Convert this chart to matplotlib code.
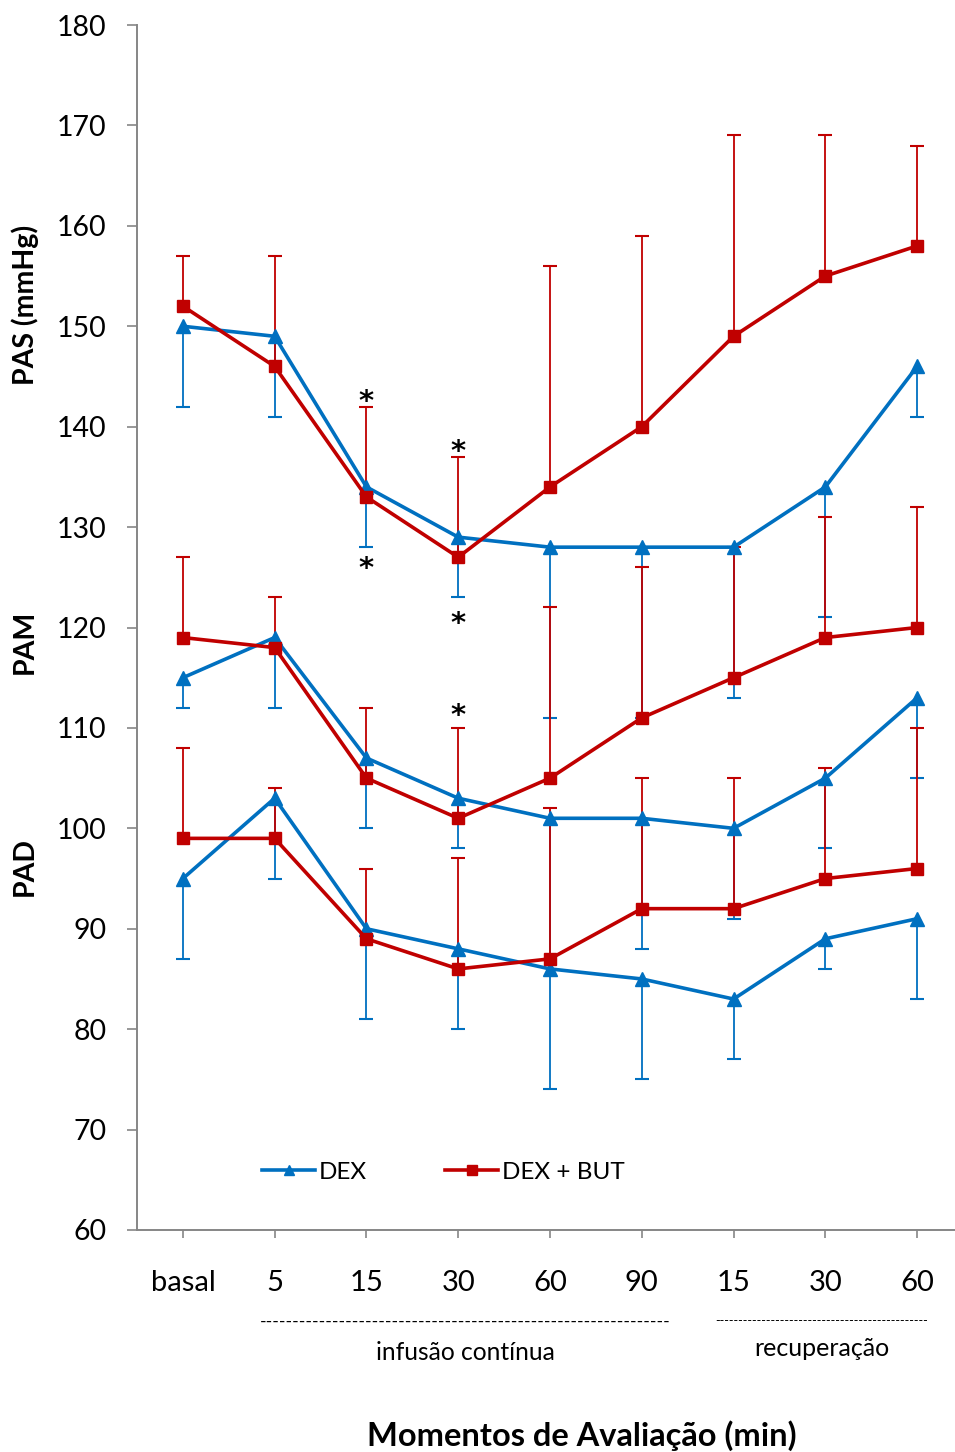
import matplotlib
matplotlib.use("Agg")
import matplotlib.pyplot as plt
from matplotlib.lines import Line2D

plt.rcParams["font.family"] = ["Lato", "DejaVu Sans"]

# categories on the x axis
labels = ["basal", "5", "15", "30", "60", "90", "15", "30", "60"]

# DEX (blue): means and lower ends of the error bars
dex_pas = [150, 149, 134, 129, 128, 128, 128, 134, 146]
dex_pas_low = [142, 141, 128, 123, 111, 111, 113, 121, 141]
dex_pam = [115, 119, 107, 103, 101, 101, 100, 105, 113]
dex_pam_low = [112, 112, 100, 98, 87, 88, 91, 98, 105]
dex_pad = [95, 103, 90, 88, 86, 85, 83, 89, 91]
dex_pad_low = [87, 95, 81, 80, 74, 75, 77, 86, 83]

# DEX + BUT (red): means and upper ends of the error bars
but_pas = [152, 146, 133, 127, 134, 140, 149, 155, 158]
but_pas_high = [157, 157, 142, 137, 156, 159, 169, 169, 168]
but_pam = [119, 118, 105, 101, 105, 111, 115, 119, 120]
but_pam_high = [127, 123, 112, 110, 122, 126, 128, 131, 132]
but_pad = [99, 99, 89, 86, 87, 92, 92, 95, 96]
but_pad_high = [108, 104, 96, 97, 102, 105, 105, 106, 110]

# significance marks (category index, value)
star_x = [2, 2, 3, 3, 3]
star_y = [142.5, 125.8, 137.5, 120.3, 111.2]

blue = "#0070C0"
red = "#C00000"
gray = "#868686"

fig = plt.figure(figsize=(9.55, 14.52), dpi=100)
ax = fig.add_axes([137 / 955, 222 / 1452, 826 / 955, 1205 / 1452])

x = list(range(len(labels)))

# error bars first, blue under red
for mean, low in [(dex_pas, dex_pas_low), (dex_pam, dex_pam_low), (dex_pad, dex_pad_low)]:
    ax.vlines(x, low, mean, color=blue, lw=1.3, zorder=2)
    ax.plot(x, low, ls="none", marker="_", ms=10, mew=1.5, color=blue, zorder=2)
for mean, high in [(but_pas, but_pas_high), (but_pam, but_pam_high), (but_pad, but_pad_high)]:
    ax.vlines(x, mean, high, color=red, lw=1.3, zorder=3)
    ax.plot(x, high, ls="none", marker="_", ms=10, mew=1.5, color=red, zorder=3)

for s in [dex_pas, dex_pam, dex_pad]:
    ax.plot(x, s, color=blue, lw=2.6, marker="^", ms=9.5, zorder=4)
for s in [but_pas, but_pam, but_pad]:
    ax.plot(x, s, color=red, lw=2.6, marker="s", ms=8.5, zorder=5)

for sx, sy in zip(star_x, star_y):
    ax.text(sx, sy, "*", ha="center", va="center", fontsize=21,
            fontweight="bold", color="black", family="DejaVu Sans")

ax.set_xlim(-0.5, 8.5)
ax.set_ylim(60, 180)
ax.set_yticks(range(60, 181, 10))
ax.set_xticks(x)
ax.set_xticklabels(labels)
ax.tick_params(axis="y", direction="out", length=7, width=1.2, color=gray,
               labelsize=20.5, pad=15)
ax.tick_params(axis="x", direction="out", length=6, width=1.2, color=gray,
               labelsize=21, pad=23)
for side in ["top", "right"]:
    ax.spines[side].set_visible(False)
for side in ["left", "bottom"]:
    ax.spines[side].set_color(gray)
    ax.spines[side].set_linewidth(1.4)

handles = [
    Line2D([], [], color=blue, lw=2.6, marker="^", ms=7.5),
    Line2D([], [], color=red, lw=2.6, marker="s", ms=7.5),
]
fig.legend(handles, ["DEX", "DEX + BUT"], loc="center left",
           bbox_to_anchor=(262 / 955, 1 - 1172 / 1452), frameon=False,
           ncol=2, fontsize=17.5, handlelength=2.2, handletextpad=0.15,
           columnspacing=3.2, borderpad=0, borderaxespad=0)

# y labels for the three pressures
fig.text(25 / 955, 1 - 305 / 1452, "PAS (mmHg)", rotation=90, ha="center",
         va="center", fontsize=20.5, fontweight="bold")
fig.text(25 / 955, 1 - 642 / 1452, "PAM", rotation=90, ha="center",
         va="center", fontsize=20.5, fontweight="bold")
fig.text(25 / 955, 1 - 866 / 1452, "PAD", rotation=90, ha="center",
         va="center", fontsize=20.5, fontweight="bold")

# group markers under the x axis
fig.text(465 / 955, 1 - 1322 / 1452, "-" * 62, ha="center", va="center",
         fontsize=12.6)
fig.text(822 / 955, 1 - 1321 / 1452, "-" * 46, ha="center", va="center",
         fontsize=9)
fig.text(465 / 955, 1 - 1353 / 1452, "infusão contínua", ha="center",
         va="center", fontsize=17.7)
fig.text(822 / 955, 1 - 1348 / 1452, "recuperação", ha="center",
         va="center", fontsize=18)
fig.text(582 / 955, 1 - 1436 / 1452, "Momentos de Avaliação (min)",
         ha="center", va="center", fontsize=23.5, fontweight="bold")

fig.savefig("out.png", dpi=100)
